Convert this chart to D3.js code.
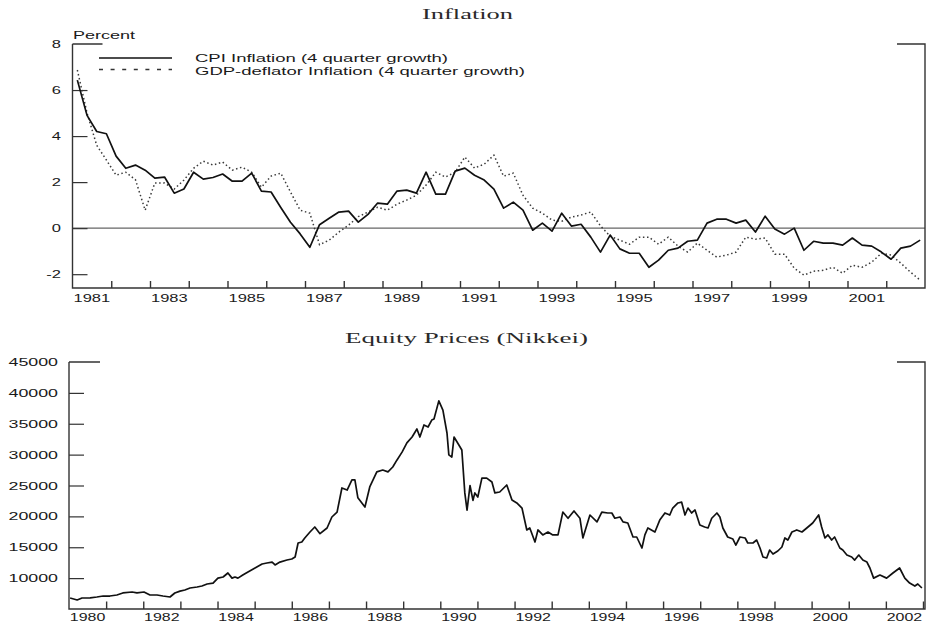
<!DOCTYPE html>
<html><head><meta charset="utf-8">
<script src="https://cdn.jsdelivr.net/npm/d3@7/dist/d3.min.js"></script>
<style>body{margin:0;background:#fff}</style>
</head><body><svg id="c" width="928" height="625"></svg>
<script>
// ---------- Inflation data (quarterly, 1981Q1 .. 2002Q4) ----------
const quarterFirstYear = 1981;
const cpiInflation = [6.43,4.9,4.2,4.1, 3.13,2.6,2.74,2.52, 2.17,2.22,1.52,1.7, 2.43,2.13,2.2,2.35,
  2.04,2.04,2.39,1.61, 1.57,0.9,0.26,-0.25, -0.83,0.15,0.43,0.7, 0.74,0.26,0.6,1.09,
  1.04,1.61,1.65,1.52, 2.43,1.48,1.48,2.48, 2.61,2.3,2.09,1.7, 0.87,1.13,0.78,-0.09,
  0.22,-0.13,0.65,0.09, 0.17,-0.39,-1.04,-0.3, -0.9,-1.09,-1.09,-1.7, -1.39,-0.96,-0.87,-0.57,
  -0.52,0.22,0.39,0.39, 0.22,0.35,-0.17,0.52, -0.04,-0.26,0.0,-0.96, -0.57,-0.65,-0.65,-0.74,
  -0.43,-0.74,-0.78,-1.04, -1.35,-0.87,-0.78,-0.52];
const gdpDeflatorInflation = [6.87,5.0,3.6,2.96, 2.3,2.43,2.1,0.78, 1.96,1.96,1.7,2.09, 2.6,2.91,2.74,2.87,
  2.52,2.65,2.43,1.78, 2.26,2.39,1.57,0.78, 0.65,-0.72,-0.52,-0.17, 0.13,0.5,0.7,0.91,
  0.78,1.04,1.22,1.43, 1.87,2.43,2.22,2.43, 3.09,2.61,2.78,3.17, 2.26,2.39,1.43,0.87,
  0.65,0.35,0.3,0.48, 0.57,0.7,0.1,-0.35, -0.52,-0.7,-0.39,-0.39, -0.7,-0.39,-0.78,-1.04,
  -0.65,-0.96,-1.26,-1.17, -1.04,-0.39,-0.48,-0.43, -1.13,-1.13,-1.74,-2.04, -1.87,-1.83,-1.7,-1.96,
  -1.61,-1.7,-1.48,-1.09, -1.17,-1.52,-1.91,-2.26];
const inflTickYears = d3.range(1982, 2003);
const inflLabelYears = [1981,1983,1985,1987,1989,1991,1993,1995,1997,1999,2001];
const inflYTicks = [-2,0,2,4,6];
const inflYLabels = ["-2","0","2","4","6","8"];
const inflYLabelVals = [-2,0,2,4,6,8];
const legendLabels = ["CPI Inflation (4 quarter growth)","GDP-deflator Inflation (4 quarter growth)"];

// ---------- Nikkei data ----------
const nikkeiDates = [1980.03,1980.22,1980.35,1980.57,1980.75,1980.92,1981.10,1981.29,1981.45,1981.70,1981.83,
 1982.02,1982.18,1982.37,1982.53,1982.72,1982.85,1982.99,1983.12,1983.26,1983.45,1983.58,1983.72,1983.88,
 1984.01,1984.15,1984.28,1984.39,1984.47,1984.55,1984.68,1984.82,1985.01,1985.20,1985.33,1985.47,1985.55,
 1985.68,1985.87,1986.00,1986.09,1986.17,1986.27,1986.35,1986.49,1986.62,1986.76,1986.95,1987.08,1987.22,
 1987.35,1987.49,1987.62,1987.70,1987.78,1987.97,1988.10,1988.29,1988.45,1988.59,1988.72,1988.83,1988.97,
 1989.10,1989.24,1989.37,1989.45,1989.56,1989.67,1989.77,1989.83,1989.96,1990.07,1990.18,1990.23,1990.31,
 1990.37,1990.50,1990.58,1990.66,1990.72,1990.80,1990.88,1990.93,1991.01,1991.12,1991.25,1991.39,1991.47,
 1991.60,1991.79,1991.93,1992.06,1992.20,1992.33,1992.41,1992.55,1992.63,1992.76,1992.90,1993.03,1993.17,
 1993.30,1993.44,1993.60,1993.76,1993.84,1994.03,1994.22,1994.35,1994.51,1994.62,1994.70,1994.84,1994.92,
 1995.05,1995.19,1995.29,1995.43,1995.51,1995.59,1995.78,1995.91,1996.05,1996.18,1996.26,1996.40,1996.50,
 1996.59,1996.67,1996.77,1996.86,1996.99,1997.12,1997.21,1997.31,1997.45,1997.53,1997.61,1997.74,1997.88,
 1997.96,1998.07,1998.21,1998.28,1998.42,1998.52,1998.61,1998.69,1998.79,1998.87,1998.96,1999.09,1999.20,
 1999.28,1999.36,1999.47,1999.60,1999.74,1999.87,2000.03,2000.19,2000.27,2000.36,2000.44,2000.54,2000.62,
 2000.76,2000.84,2000.95,2001.08,2001.16,2001.27,2001.38,2001.49,2001.57,2001.67,2001.84,2002.02,2002.19,
 2002.37,2002.51,2002.64,2002.78,2002.86,2002.97];
const nikkeiValues = [6780,6460,6780,6800,6940,7100,7100,7270,7600,7750,7600,
 7750,7270,7270,7100,6940,7590,7900,8080,8400,8560,8720,9050,9200,
 10000,10180,10830,10000,10180,10000,10500,11000,11640,12290,12450,12600,12130,
 12600,12930,13100,13420,15690,15850,16500,17470,18280,17200,18120,19900,20700,
 24600,24270,25900,25900,23000,21520,24760,27200,27500,27200,28000,29100,30400,
 31900,32850,34150,32850,34800,34470,35600,35770,38700,37200,33500,29950,29600,
 32850,31560,30750,23800,21000,25000,22600,23800,23140,26200,26200,25570,23800,
 23950,25080,22650,22170,21350,17800,18120,15850,17800,17000,17470,17000,17000,
 20700,19700,20870,19700,16500,20220,19100,20700,20550,20550,19700,19900,19100,
 18930,16660,16660,14880,17000,18120,17470,19400,20550,20220,21350,22170,22300,
 20220,21350,20550,21040,18600,18280,18120,19700,20550,19900,18120,16660,16330,
 15360,16660,16500,15690,15690,16170,14880,13420,13260,14550,13900,14390,15040,
 16500,16170,17470,17800,17470,18120,18930,20220,18280,16500,17000,16170,16660,
 14880,14550,13740,13420,12930,13740,12930,12610,11640,10000,10500,10000,10830,
 11640,10000,9200,8720,9050,8400];
const nikTickYears = d3.range(1981, 2004);
const nikLabelYears = d3.range(1980, 2003, 2);
const nikYTicks = [10000,15000,20000,25000,30000,35000,40000];
const nikYLabelVals = [10000,15000,20000,25000,30000,35000,40000,45000];

const titles = ["Inflation", "Equity Prices (Nikkei)"];
const unitLabel = "Percent";

// ---------- drawing ----------
const svg = d3.select("#c");
svg.append("rect").attr("width",928).attr("height",625).attr("fill","#fff");
const INK = "#1a1a1a";
const SANS = "Liberation Sans, Arial, sans-serif";
const SERIF = "Liberation Serif, Times New Roman, serif";

function label(g, s, x, y, anchor, fs, sx) {
  g.append("text").attr("transform", `translate(${x},${y}) scale(${sx},1)`)
    .attr("text-anchor", anchor).attr("font-family", SANS).attr("font-size", fs)
    .attr("fill", INK).text(s);
}
function stretched(g, s, x, y, len, fs, fam, fill) {
  g.append("text").attr("x", x).attr("y", y).attr("font-family", fam).attr("font-size", fs)
    .attr("textLength", len).attr("lengthAdjust", "spacingAndGlyphs").attr("fill", fill || INK).text(s);
}
function frame(g, L, R, T, B, topLen) {
  const p = d3.path();
  p.moveTo(L, T); p.lineTo(L, B); p.lineTo(R, B); p.lineTo(R, T); p.lineTo(R - 28, T);
  p.moveTo(L, T); p.lineTo(L + topLen, T);
  g.append("path").attr("d", p.toString()).attr("fill","none").attr("stroke","#333").attr("stroke-width",1.4);
}

// ===== Top: Inflation =====
const gI = svg.append("g");
const xI = d3.scaleLinear().domain([1981, 2003]).range([72.5, 925]);
const yI = d3.scaleLinear().domain([-2.6, 8]).range([288, 44]);
const qDates = cpiInflation.map((d, i) => quarterFirstYear + (i + 0.5) / 4);

stretched(gI, titles[0], 422, 18.5, 91, 15, SERIF, "#2a2a2a");
stretched(gI, unitLabel, 73, 38.5, 62, 11, SANS);

// zero line
gI.append("line").attr("x1", xI(1981)).attr("x2", xI(2003)).attr("y1", yI(0)).attr("y2", yI(0))
  .attr("stroke", "#666").attr("stroke-width", 1.2);

// x ticks (upward)
gI.append("g").attr("transform", `translate(0,${yI(-2.6)})`)
  .call(d3.axisBottom(xI).tickValues(inflTickYears).tickSizeInner(-7).tickSizeOuter(0).tickFormat(""))
  .call(g => g.select(".domain").remove())
  .call(g => g.selectAll("line").attr("stroke", "#333").attr("stroke-width", 1.4));
// y ticks (inward)
gI.append("g").attr("transform", `translate(${xI(1981)},0)`)
  .call(d3.axisRight(yI).tickValues(inflYTicks).tickSizeInner(15).tickSizeOuter(0).tickFormat(""))
  .call(g => g.select(".domain").remove())
  .call(g => g.selectAll("line").attr("stroke", "#333").attr("stroke-width", 1.2));
frame(gI, xI(1981), 925, yI(8), yI(-2.6), 30);

inflLabelYears.forEach(yr => label(gI, String(yr), xI(yr + 0.5), 302, "middle", 11, 1.5));
inflYLabelVals.forEach((v, i) => label(gI, inflYLabels[i], 61, yI(v) + 4, "end", 11, 1.5));

const lineI = d3.line().x((d, i) => xI(qDates[i])).y(d => yI(d));
gI.append("path").attr("d", lineI(gdpDeflatorInflation)).attr("fill","none")
  .attr("stroke", "#3a3a3a").attr("stroke-width", 1.5).attr("stroke-dasharray", "1.5,2.6");
gI.append("path").attr("d", lineI(cpiInflation)).attr("fill","none")
  .attr("stroke", "#111").attr("stroke-width", 1.7).attr("stroke-linejoin","round");

// legend
gI.append("line").attr("x1", 99).attr("x2", 172).attr("y1", 58).attr("y2", 58)
  .attr("stroke", "#111").attr("stroke-width", 1.7);
gI.append("line").attr("x1", 99).attr("x2", 172).attr("y1", 69.5).attr("y2", 69.5)
  .attr("stroke", "#333").attr("stroke-width", 1.6).attr("stroke-dasharray", "4,7.6");
stretched(gI, legendLabels[0], 195, 62, 253, 11, SANS);
stretched(gI, legendLabels[1], 195, 74.5, 330, 11, SANS);

// ===== Bottom: Nikkei =====
const gN = svg.append("g");
const xN = d3.scaleLinear().domain([1980, 2003]).range([69, 923]);
const yN = d3.scaleLinear().domain([5000, 45000]).range([609, 362]);

stretched(gN, titles[1], 345, 342.5, 243, 15, SERIF, "#2a2a2a");

gN.append("g").attr("transform", `translate(0,${yN(5000)})`)
  .call(d3.axisBottom(xN).tickValues(nikTickYears).tickSizeInner(-7.5).tickSizeOuter(0).tickFormat(""))
  .call(g => g.select(".domain").remove())
  .call(g => g.selectAll("line").attr("stroke", "#333").attr("stroke-width", 1.4));
gN.append("g").attr("transform", `translate(${xN(1980)},0)`)
  .call(d3.axisRight(yN).tickValues(nikYTicks).tickSizeInner(15).tickSizeOuter(0).tickFormat(""))
  .call(g => g.select(".domain").remove())
  .call(g => g.selectAll("line").attr("stroke", "#333").attr("stroke-width", 1.2));
frame(gN, xN(1980), 925, yN(45000), yN(5000), 31);

nikLabelYears.forEach(yr => label(gN, String(yr), xN(yr + 0.5), 621, "middle", 11, 1.45));
nikYLabelVals.forEach(v => label(gN, String(v), 58, yN(v) + 4, "end", 11.5, 1.55));

const lineN = d3.line().x((d, i) => xN(nikkeiDates[i])).y(d => yN(d));
gN.append("path").attr("d", lineN(nikkeiValues)).attr("fill","none")
  .attr("stroke", "#111").attr("stroke-width", 1.7).attr("stroke-linejoin","round");
</script></body></html>
